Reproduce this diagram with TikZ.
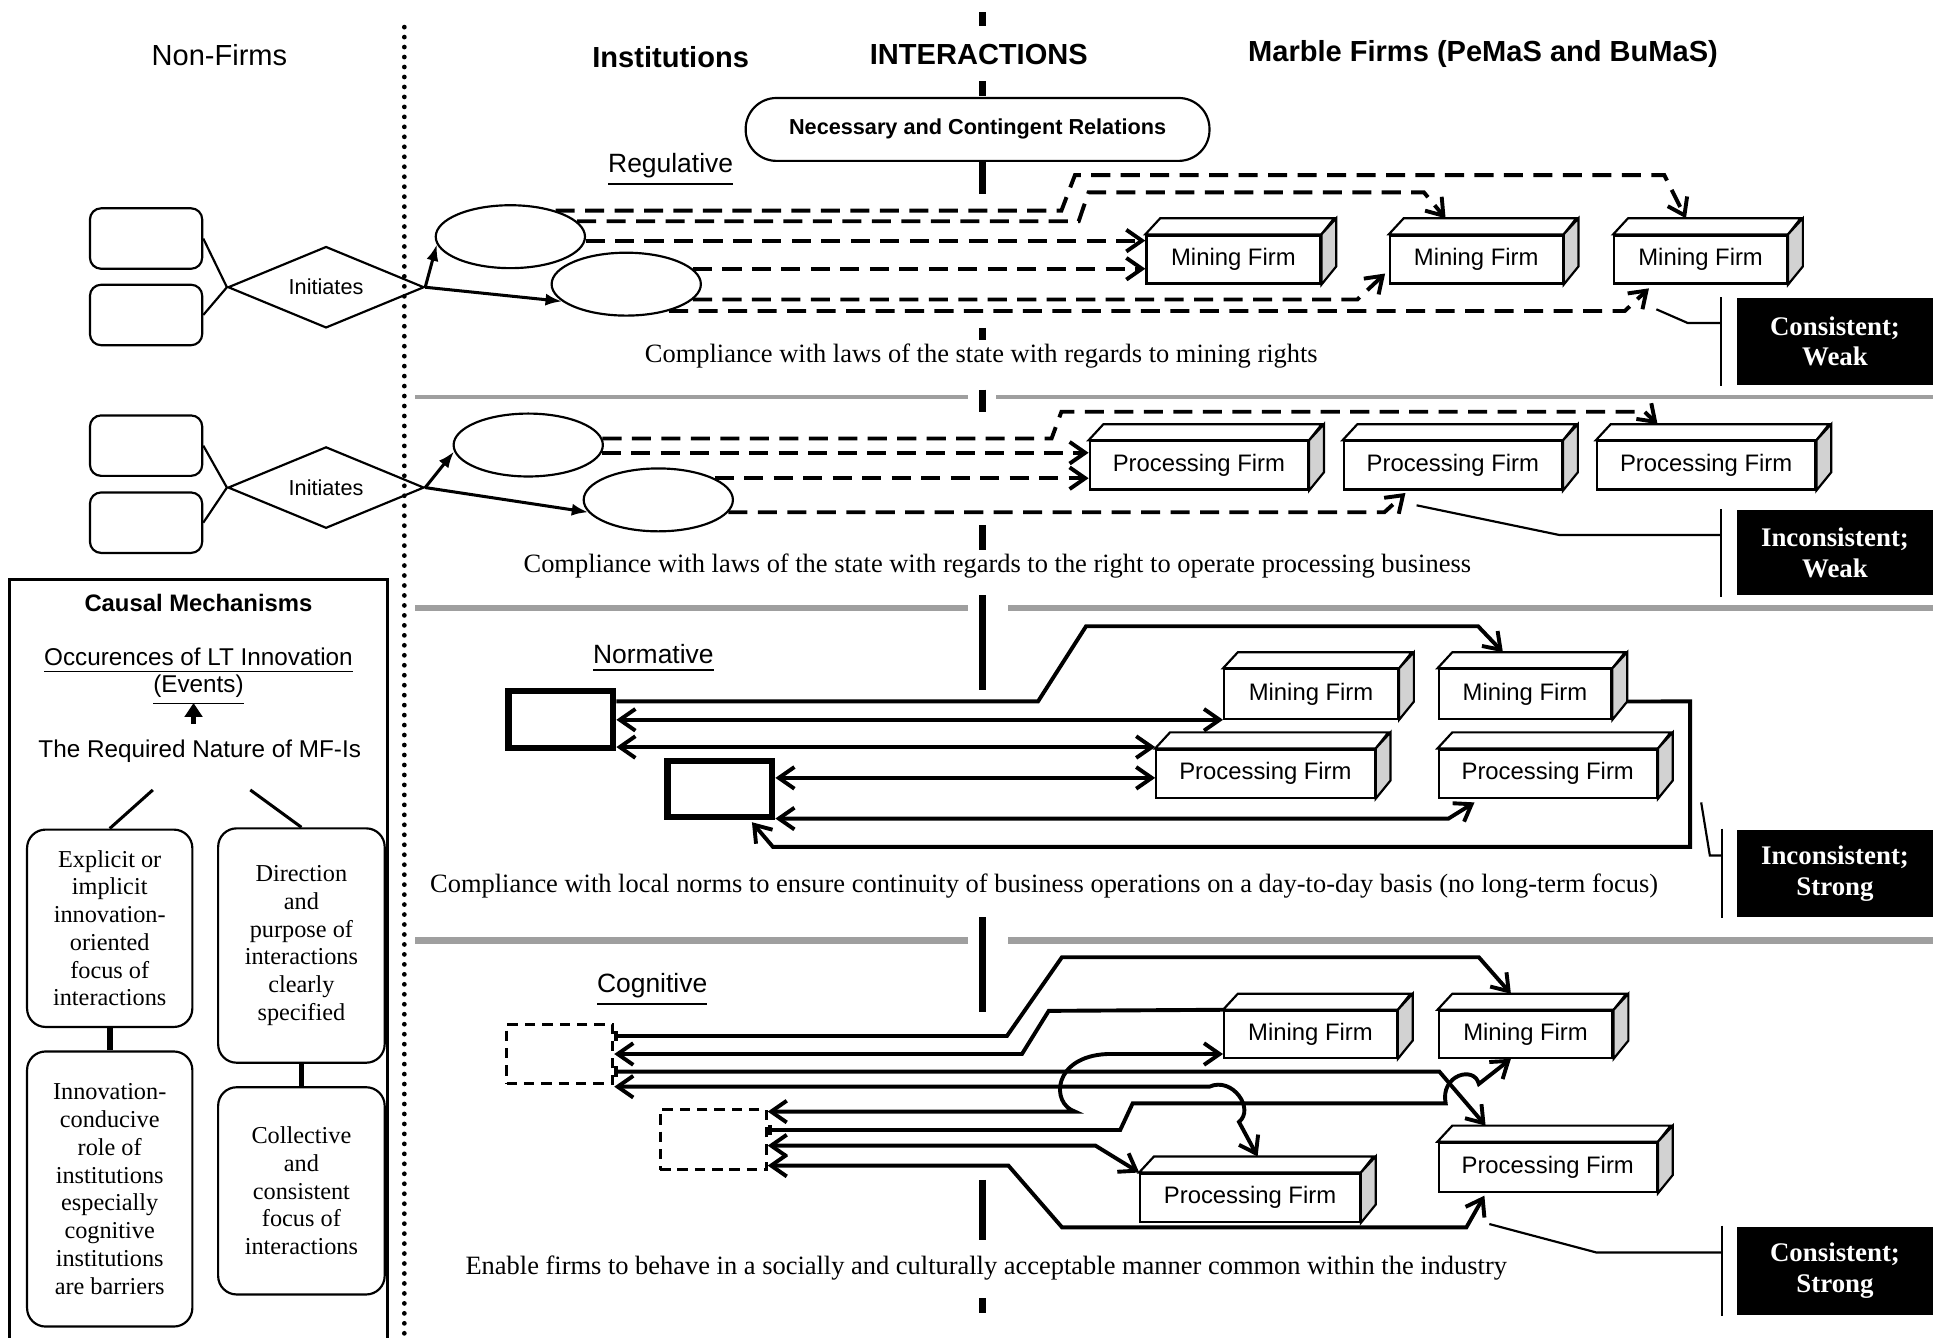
\documentclass[tikz,border=0pt]{standalone}
\usepackage{fontspec}
\setmainfont{Liberation Serif}
\setsansfont{Liberation Sans}
\usetikzlibrary{arrows.meta,shapes.geometric}

\newcommand{\fsz}[2]{\fontsize{#1}{#2}\selectfont}
% firm as a small 3d box: name, centre, width, height, label
\newcommand{\firmbox}[5]{%
  \node[firm, minimum width=#3, minimum height=#4] (#1) at #2 {#5};
  \draw[fill=white] (#1.north west) -- ++(0.12cm,0.13cm) -- ++(#3,0cm) -- (#1.north east) -- cycle;
  \draw[fill=gray!35] (#1.north east) -- ++(0.12cm,0.13cm) -- ++(0cm,-#4) -- (#1.south east) -- cycle;
}

\begin{document}
\begin{tikzpicture}[x=0.01cm, y=-0.01cm, line width=0.5pt,
  >={Straight Barb[length=3.6pt,width=5pt]},
  head/.style={font=\sffamily\bfseries\fsz{6.7}{8}},
  sect/.style={font=\sffamily\fsz{6.1}{7}},
  capt/.style={font=\fsz{6.1}{7}},
  nonfirm/.style={draw, rounded corners=0.09cm, minimum width=0.91cm, minimum height=0.49cm},
  initiate/.style={draw, diamond, aspect=2.4, minimum width=1.59cm, minimum height=0.66cm, inner sep=0pt, font=\sffamily\fsz{5}{6}},
  inst/.style={draw, ellipse, fill=white, minimum width=1.21cm, minimum height=0.51cm, inner sep=0pt},
  tri/.style={-{Latex[length=3.8pt,width=2.8pt]}, line width=0.7pt},
  firm/.style={draw, fill=white, inner sep=0pt, font=\sffamily\fsz{5.5}{6.5}},
  dline/.style={line width=0.9pt, dash pattern=on 4.4pt off 2.4pt},
  sline/.style={line width=0.9pt},
  res/.style={fill=black, text=white, align=center, minimum width=1.59cm, inner sep=0pt, font=\bfseries\fsz{6.2}{7.1}},
  nsq/.style={draw, line width=1.4pt, minimum width=0.85cm, inner sep=0pt},
  csq/.style={draw, line width=0.7pt, dash pattern=on 2.4pt off 1.6pt, minimum width=0.86cm, inner sep=0pt},
  mech/.style={draw, rounded corners=0.15cm, minimum width=1.34cm, inner sep=1pt, align=center, font=\fsz{5.6}{6.4}},
  spine/.style={line width=1.7pt},
  sep/.style={draw=gray!75}
]
\useasboundingbox (0,0) rectangle (1568,1085);

% column heads
\node[font=\sffamily\fsz{6.7}{8}] (nonfirms) at (178,45) {Non-Firms};
\node[head] (insts) at (544,46) {Institutions};
\node[head] (inter) at (794,44) {INTERACTIONS};
\node[head] (marble) at (1203,44) {Marble Firms (PeMaS and BuMaS)};

\draw[line width=1.1pt, line cap=round, dash pattern=on 0pt off 2.3pt] (328,22) -- (328,1085);
\foreach \a/\b in {10/21,66/78,128/157,266/276,316/334,426/446,483/560,744/821,957/1006,1053/1065}
  \draw[spine] (797,\a) -- (797,\b);
\foreach \y/\w/\r in {322/1.1/808,493/1.5/818,763/1.5/818} {
  \draw[sep, line width=\w pt] (337,\y) -- (785,\y);
  \draw[sep, line width=\w pt] (\r,\y) -- (1568,\y);
}

\node[draw, fill=white, rounded corners=0.25cm, minimum width=3.76cm, minimum height=0.51cm,
  font=\sffamily\bfseries\fsz{5}{6}] (ncr) at (793,105) {Necessary and Contingent Relations};
\node[sect] (reg) at (544,138) {\underline{Regulative}};

% regulative: mining rights
\node[nonfirm] (nf1) at (118.5,193.5) {};
\node[nonfirm] (nf2) at (118.5,255.5) {};
\node[initiate] (ri1) at (264.5,233) {Initiates};
\node[inst] (re1) at (414,192) {};
\node[inst] (re2) at (508,230.5) {};
\draw (nf1.east) -- (ri1.west);
\draw (nf2.east) -- (ri1.west);
\draw[tri] (ri1.east) -- (re1.186);
\draw[tri] (ri1.east) -- (re2.195);
\firmbox{rm1}{(1000.5,210.5)}{1.41cm}{0.39cm}{Mining Firm}
\firmbox{rm2}{(1197.5,210.5)}{1.40cm}{0.39cm}{Mining Firm}
\firmbox{rm3}{(1379.5,210.5)}{1.40cm}{0.39cm}{Mining Firm}
\draw[dline,->] (re1.30) -- (re1.30 -| 861,0) -- (872,142) -- (1350,142) -- ([shift={(0.59cm,0.13cm)}]rm3.north west);
\draw[dline,->] (re1.13) -- (re1.13 -| 875,0) -- (883,156) -- (1155,156) -- ([shift={(0.46cm,0.13cm)}]rm2.north west);
\draw[dline,->] (re1.-3) -- (re1.-3 -| rm1.west);
\draw[dline,->] (re2.13) -- (re2.13 -| rm1.west);
\draw[dline,->] (re2.-13) -- (re2.-13 -| 1101,0) -- ([shift={(-0.03cm,0.09cm)}]rm2.south west);
\draw[dline,->] (re2.-32) -- (re2.-32 -| 1318,0) -- ([shift={(0.29cm,-0.03cm)}]rm3.south west);
\node[res, minimum height=0.70cm] (rmres) at (1488.5,277) {Consistent;\\Weak};
\draw ([xshift=-0.12cm]rmres.north west) coordinate (rmbar) -- ([xshift=-0.12cm]rmres.south west);
\draw ([shift={(0.35cm,-0.2cm)}]rm3.south west) -- (1369,262) -- (rmbar |- 0,262);
\node[capt] (cap1) at (796,289) {Compliance with laws of the state with regards to mining rights};

% regulative: processing business
\node[nonfirm] (nf3) at (118.5,361.5) {};
\node[nonfirm] (nf4) at (118.5,424) {};
\node[initiate] (ri2) at (264.5,395.5) {Initiates};
\node[inst] (re3) at (428.5,361) {};
\node[inst] (re4) at (534,405.5) {};
\draw (nf3.east) -- (ri2.west);
\draw (nf4.east) -- (ri2.west);
\draw[tri] (ri2.east) -- (re3.185);
\draw[tri] (ri2.east) -- (re4.190);
\firmbox{rp1}{(972.5,377.5)}{1.77cm}{0.39cm}{Processing Firm}
\firmbox{rp2}{(1178.5,377.5)}{1.77cm}{0.39cm}{Processing Firm}
\firmbox{rp3}{(1384,377.5)}{1.77cm}{0.39cm}{Processing Firm}
\draw[dline,->] (re3.5) -- (re3.5 -| 853,0) -- (861,334) -- (1334,334) -- ([shift={(0.50cm,0.13cm)}]rp3.north west);
\draw[dline,->] (re3.-6) -- (re3.-6 -| rp1.west);
\draw[dline,->] (re4.21) -- (re4.21 -| rp1.west);
\draw[dline,->] (re4.-10) -- (re4.-10 -| 1123,0) -- ([shift={(0.51cm,-0.02cm)}]rp2.south west);
\node[res, minimum height=0.69cm] (rpres) at (1488.5,448.5) {Inconsistent;\\Weak};
\draw ([xshift=-0.12cm]rpres.north west) coordinate (rpbar) -- ([xshift=-0.12cm]rpres.south west);
\draw ([shift={(0.6cm,-0.12cm)}]rp2.south west) -- (1265,434) -- (rpbar |- 0,434);
\node[capt] (cap2) at (809,459) {Compliance with laws of the state with regards to the right to operate processing business};

% normative
\node[sect] (norm) at (530,534) {\underline{Normative}};
\node[nsq, minimum height=0.46cm] (ns1) at (455,583.5) {};
\node[nsq, minimum height=0.45cm] (ns2) at (584,640) {};
\firmbox{nm1}{(1063.5,563)}{1.41cm}{0.40cm}{Mining Firm}
\firmbox{nm2}{(1237,563)}{1.40cm}{0.40cm}{Mining Firm}
\firmbox{np1}{(1026.5,627.5)}{1.77cm}{0.39cm}{Processing Firm}
\firmbox{np2}{(1255.5,627.5)}{1.77cm}{0.39cm}{Processing Firm}
\draw[sline,->] (ns1.east |- 0,569) -- (842,569) -- (881,508) -- (1199,508) -- ([shift={(0.53cm,0.13cm)}]nm2.north west);
\draw[sline,<->] (ns1.east |- nm1.south west) -- (nm1.south west);
\draw[sline,<->] (ns1.east |- 0,606) -- (np1.north west |- 0,606);
\draw[sline,<->] (ns2.east |- 0,631) -- (np1.west |- 0,631);
\draw[sline,<->] (ns2.east |- 0,664) -- (1175,664) -- ([shift={(0.30cm,-0.03cm)}]np2.south west);
\draw[sline,->] ([shift={(0.12cm,-0.06cm)}]nm2.east) -- (1371,569) -- (1371,687) -- (627,687) -- ([shift={(-0.19cm,-0.02cm)}]ns2.south east);
\node[res, minimum height=0.71cm] (nres) at (1488.5,708.5) {Inconsistent;\\Strong};
\draw ([xshift=-0.11cm]nres.north west) coordinate (nbar) -- ([xshift=-0.11cm]nres.south west);
\draw ([shift={(0.35cm,-0.03cm)}]np2.south east) -- (1387,694) -- (nbar |- 0,694);
\node[capt] (cap3) at (847,719) {Compliance with local norms to ensure continuity of business operations on a day-to-day basis (no long-term focus)};

% cognitive
\node[sect] (cogn) at (529,803) {\underline{Cognitive}};
\node[csq, minimum height=0.48cm] (cs1) at (454,855) {};
\node[csq, minimum height=0.49cm] (cs2) at (578.5,924.5) {};
\firmbox{cm1}{(1063,839)}{1.40cm}{0.38cm}{Mining Firm}
\firmbox{cm2}{(1237.5,839)}{1.41cm}{0.38cm}{Mining Firm}
\firmbox{cp1}{(1014,971.5)}{1.78cm}{0.39cm}{Processing Firm}
\firmbox{cp2}{(1255.5,947)}{1.77cm}{0.40cm}{Processing Firm}
\draw[sline,{Bar[width=2.5pt]}->] (cs1.east |- 0,840.4) -- (816.8,840.4) -- (861.4,776.5) -- (1199.6,776.5) -- ([shift={(0.595cm,0.13cm)}]cm2.north west);
\draw[sline,<-] (cs1.east) -- (829,855) -- (850.7,820) -- (cm1.north west);
\draw[sline,{Bar[width=2.5pt]}->] (cs1.east |- 0,869.3) -- (1167.6,869.3) -- ([shift={(0.39cm,0.13cm)}]cp2.north west);
\draw[sline,<->] (cs1.east |- 0,881.5) -- (981,881.5) .. controls (1000,873) and (1018,900) .. (1005,910) -- ([shift={(0.96cm,0.13cm)}]cp1.north west);
\draw[sline,<->] (cs2.east |- 0,901.7) -- (872,901.7) .. controls (852,895) and (854,857) .. (898,855) -- (cm1.west |- 0,855);
\draw[sline,{Bar[width=2.5pt]}->] (cs2.east |- 0,916.6) -- (908.7,916.6) -- (918.8,895) -- (1172.7,895) .. controls (1168,872) and (1196,864) .. (1199.6,879.3) -- ([xshift=0.595cm]cm2.south west);
\draw[sline,<->] (cs2.east |- 0,929.3) -- (888.6,929.3) -- (cp1.north west);
\draw[sline,<->] (cs2.east |- 0,945.5) -- (818,945.5) -- (861.5,995.6) -- (1189.5,995.6) -- ([shift={(0.38cm,-0.02cm)}]cp2.south west);
\node[res, minimum height=0.72cm] (cres) at (1488.5,1031) {Consistent;\\Strong};
\draw ([xshift=-0.11cm]cres.north west) coordinate (cbar) -- ([xshift=-0.11cm]cres.south west);
\draw ([shift={(0.42cm,-0.25cm)}]cp2.south west) -- (1295,1016) -- (cbar |- 0,1016);
\node[capt] (cap4) at (800,1029) {Enable firms to behave in a socially and culturally acceptable manner common within the industry};

% causal mechanisms
\draw[line width=0.7pt] (8,1086) |- (314,470) -- (314,1086);
\node[font=\sffamily\bfseries\fsz{5.5}{6.5}] (causal) at (161,489) {Causal Mechanisms};
\node[align=center, font=\sffamily\fsz{5.6}{6.3}] (occ) at (161,549) {\underline{Occurences of LT Innovation}\\\underline{(Events)}};
\node[font=\sffamily\fsz{5.6}{6.5}] (req) at (162,609) {The Required Nature of MF-Is};
\draw[-{Triangle[length=3.2pt,width=4pt]}, line width=1.1pt] ([xshift=-0.05cm]req.north) -- ++(0,-17);
\node[mech, minimum height=1.60cm] (bx1) at (89,753) {Explicit or\\implicit\\innovation-\\oriented\\focus of\\interactions};
\node[mech, minimum height=1.90cm, minimum width=1.35cm] (bx2) at (244.5,767) {Direction\\and\\purpose of\\interactions\\clearly\\specified};
\node[mech, minimum height=2.23cm] (bx3) at (89,964.5) {Innovation-\\conducive\\role of\\institutions\\especially\\cognitive\\institutions\\are barriers};
\node[mech, minimum height=1.68cm, minimum width=1.35cm] (bx4) at (244.5,966) {Collective\\and\\consistent\\focus of\\interactions};
\draw[line width=0.7pt] ([shift={(-0.38cm,-0.1cm)}]req.south) -- (bx1.north);
\draw[line width=0.7pt] ([shift={(0.41cm,-0.1cm)}]req.south) -- (bx2.north);
\draw[line width=1.3pt] (bx1.south) -- (bx3.north);
\draw[line width=1.3pt] (bx2.south) -- (bx4.north);
\end{tikzpicture}
\end{document}
